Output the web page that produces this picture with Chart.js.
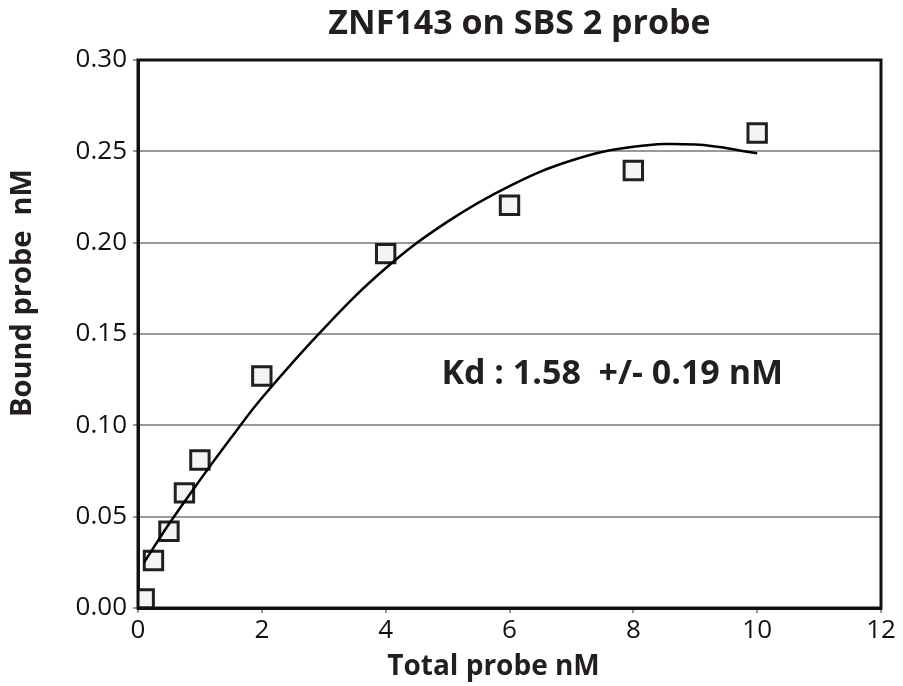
<!DOCTYPE html>
<html>
<head>
<meta charset="utf-8">
<script src="https://cdn.jsdelivr.net/npm/chart.js@4"></script>
<style>
  html, body { margin: 0; padding: 0; background: #fff; }
  #wrap { width: 903px; height: 686px; }
</style>
</head>
<body>
<div id="wrap"><canvas id="chart" width="903" height="686"></canvas></div>
<script>
// measured points
const totalProbe = [0.1, 0.25, 0.5, 0.75, 1, 2, 4, 6, 8, 10];
const boundProbe = [0.005, 0.026, 0.042, 0.063, 0.081, 0.127, 0.194, 0.2205, 0.2395, 0.26];

// fitted curve
const fitX = [0.1, 0.5, 1, 1.5, 2, 3, 4, 5, 6, 7, 8, 9, 10];
const fitY = [0.025, 0.046, 0.07, 0.093, 0.115, 0.153, 0.186, 0.2115, 0.231, 0.245, 0.2525, 0.2537, 0.249];

const xTicks = [0, 2, 4, 6, 8, 10, 12];
const yTicks = [0, 0.05, 0.1, 0.15, 0.2, 0.25, 0.3];

const titleText = "ZNF143 on SBS 2 probe";
const xTitle = "Total probe nM";
const yTitle = "Bound probe  nM";
const kdText = "Kd : 1.58  +/- 0.19 nM";

const FONT = "'Open Sans', sans-serif";

const textPlugin = {
  id: "texts",
  afterDraw(chart) {
    const ctx = chart.ctx;
    const a = chart.chartArea;
    const xs = chart.scales.x;
    const ys = chart.scales.y;
    ctx.save();
    // frame round the plot
    ctx.strokeStyle = "#111";
    ctx.lineWidth = 3;
    ctx.strokeRect(a.left, a.top, a.right - a.left, a.bottom - a.top);

    ctx.fillStyle = "#231f20";
    ctx.textBaseline = "middle";
    ctx.textAlign = "center";
    ctx.font = "bold 34px " + FONT;
    ctx.fillText(titleText, (a.left + a.right) / 2 + 10, 24);

    ctx.font = "bold 28px " + FONT;
    ctx.fillText(xTitle, (a.left + a.right) / 2 - 16, 667);

    ctx.save();
    ctx.font = "bold 29px " + FONT;
    ctx.translate(23, (a.top + a.bottom) / 2 - 41);
    ctx.rotate(-Math.PI / 2);
    ctx.fillText(yTitle, 0, 0);
    ctx.restore();

    ctx.textAlign = "left";
    ctx.font = "bold 34px " + FONT;
    ctx.fillText(kdText, xs.getPixelForValue(4.9), ys.getPixelForValue(0.128));
    ctx.restore();
  }
};

new Chart(document.getElementById("chart"), {
  type: "scatter",
  data: {
    datasets: [
      {
        label: "fit",
        data: fitX.map((x, i) => ({ x: x, y: fitY[i] })),
        showLine: true,
        borderColor: "#000",
        borderWidth: 2.5,
        pointRadius: 0,
        tension: 0.4,
        fill: false
      },
      {
        label: "data",
        data: totalProbe.map((x, i) => ({ x: x, y: boundProbe[i] })),
        pointStyle: "rect",
        pointRadius: 13,
        pointBorderWidth: 3,
        pointBorderColor: "#231f20",
        pointBackgroundColor: "#f4f4f4",
        showLine: false
      }
    ]
  },
  options: {
    responsive: false,
    animation: false,
    layout: { padding: { top: 60, right: 22, left: 0, bottom: 0 } },
    plugins: {
      legend: { display: false },
      title: { display: false },
      tooltip: { enabled: false }
    },
    scales: {
      x: {
        type: "linear",
        min: 0,
        max: 12,
        afterFit(scale) { scale.height = 78; },
        afterBuildTicks(scale) { scale.ticks = xTicks.map(v => ({ value: v })); },
        grid: { drawOnChartArea: false, color: "#999", tickLength: 5, lineWidth: 2 },
        border: { color: "#111", width: 3 },
        ticks: { color: "#111", font: { family: FONT, size: 26 }, padding: 2 }
      },
      y: {
        type: "linear",
        min: 0,
        max: 0.3,
        afterFit(scale) { scale.width = 138; },
        afterBuildTicks(scale) { scale.ticks = yTicks.map(v => ({ value: v })); },
        grid: { color: "#999", lineWidth: 2, tickLength: 5 },
        border: { color: "#111", width: 3 },
        ticks: {
          color: "#111",
          font: { family: FONT, size: 26 },
          padding: 6,
          callback: v => v.toFixed(2)
        }
      }
    }
  },
  plugins: [textPlugin]
});
</script>
</body>
</html>
